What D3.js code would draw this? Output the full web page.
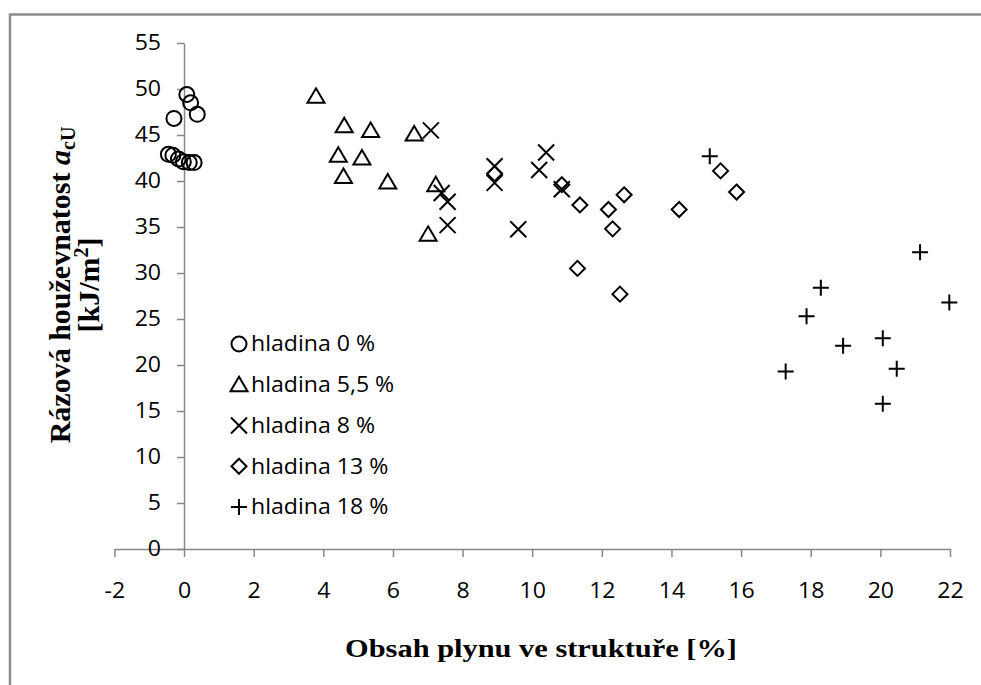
<!DOCTYPE html>
<html>
<head>
<meta charset="utf-8">
<script src="https://cdn.jsdelivr.net/npm/d3@7"></script>
<style>
  body { margin: 0; background: #fff; }
  svg { display: block; }
  .tick text { font-family: "Open Sans", sans-serif; font-size: 21px; fill: #000; }
  .legend text { font-family: "Open Sans", sans-serif; font-size: 21px; fill: #000; }
  .title { font-family: "Liberation Serif", "Times New Roman", serif; font-weight: bold; fill: #000; }
</style>
</head>
<body>
<div id="chart"></div>
<script>
var width = 981,
    height = 685;

// hladina 0 %
var x0 = [0.08, 0.19, 0.38, -0.29, -0.45, -0.32, -0.16, -0.02, 0.15, 0.29];
var y0 = [49.4, 48.5, 47.25, 46.8, 42.9, 42.8, 42.4, 42.1, 42.0, 42.0];
// hladina 5,5 %
var x55 = [3.79, 4.6, 5.36, 6.61, 4.43, 5.11, 4.58, 5.85, 7.23, 7.01];
var y55 = [49.2, 46.0, 45.5, 45.1, 42.8, 42.5, 40.5, 39.9, 39.6, 34.2];
// hladina 8 %
var x8 = [7.09, 10.4, 8.92, 10.2, 8.92, 7.4, 7.57, 10.85, 7.57, 9.6];
var y8 = [45.5, 43.1, 41.6, 41.2, 39.8, 38.7, 37.75, 39.1, 35.2, 34.75];
// hladina 13 %
var x13 = [8.92, 10.85, 11.37, 12.19, 12.64, 12.31, 11.3, 12.52, 15.41, 15.87, 14.22];
var y13 = [40.8, 39.6, 37.4, 36.9, 38.5, 34.8, 30.5, 27.7, 41.1, 38.8, 36.9];
// hladina 18 %
var x18 = [15.1, 21.14, 18.29, 21.98, 17.88, 18.93, 20.07, 17.28, 20.47, 20.07];
var y18 = [42.7, 32.25, 28.4, 26.8, 25.3, 22.1, 22.9, 19.3, 19.6, 15.8];

var seriesNames = ["hladina 0 %", "hladina 5,5 %", "hladina 8 %", "hladina 13 %", "hladina 18 %"];
var xTicks = [-2, 0, 2, 4, 6, 8, 10, 12, 14, 16, 18, 20, 22];
var yTicks = [0, 5, 10, 15, 20, 25, 30, 35, 40, 45, 50, 55];

var series = [
  { name: seriesNames[0], shape: "circle", xs: x0, ys: y0 },
  { name: seriesNames[1], shape: "triangle", xs: x55, ys: y55 },
  { name: seriesNames[2], shape: "x", xs: x8, ys: y8 },
  { name: seriesNames[3], shape: "diamond", xs: x13, ys: y13 },
  { name: seriesNames[4], shape: "plus", xs: x18, ys: y18 }
];

var stretch = 1.1; // text in the picture is a bit wider than tall

var svg = d3.select("#chart").append("svg")
  .attr("width", width)
  .attr("height", height);

// chart frame (only top and left edges are visible)
svg.append("path")
  .attr("d", "M10,685 V14.5 H981")
  .attr("fill", "none")
  .attr("stroke", "#8c8c8c")
  .attr("stroke-width", 2.5);

var x = d3.scaleLinear().domain([-2, 22]).range([114.4, 950]);
var y = d3.scaleLinear().domain([0, 55]).range([549, 43]);

// axes
var xAxis = svg.append("g")
  .attr("transform", "translate(0," + y(0) + ")")
  .call(d3.axisBottom(x).tickValues(xTicks).tickFormat(String)
    .tickSize(8).tickPadding(34).tickSizeOuter(0));

var yAxis = svg.append("g")
  .attr("transform", "translate(" + x(0) + ",0)")
  .call(d3.axisLeft(y).tickValues(yTicks).tickFormat(String)
    .tickSize(7).tickPadding(16).tickSizeOuter(0));

[xAxis, yAxis].forEach(function(ax) {
  ax.select(".domain").attr("stroke", "#888").attr("stroke-width", 1.5);
  ax.selectAll(".tick line").attr("stroke", "#888").attr("stroke-width", 1.5);
});

// stretch tick labels horizontally
xAxis.selectAll(".tick text").attr("transform", "scale(" + stretch + ",1)").attr("dy", "0.32em");
yAxis.selectAll(".tick text").each(function() {
  var t = d3.select(this);
  t.attr("x", +t.attr("x") / stretch).attr("transform", "scale(" + stretch + ",1)");
});

// marker symbols
function marker(sel, shape) {
  if (shape === "circle") {
    sel.append("circle").attr("r", 7.5);
  } else if (shape === "triangle") {
    sel.append("path").attr("d", "M0,-8 L8.5,6.5 L-8.5,6.5 Z");
  } else if (shape === "diamond") {
    sel.append("path").attr("d", "M0,-7.5 L7.5,0 L0,7.5 L-7.5,0 Z");
  } else if (shape === "x") {
    sel.append("path").attr("d", "M-8,-8 L8,8 M-8,8 L8,-8");
  } else if (shape === "plus") {
    sel.append("path").attr("d", "M-8,0 H8 M0,-8 V8");
  }
  sel.selectAll("circle, path")
    .attr("fill", "none")
    .attr("stroke", "#000")
    .attr("stroke-width", 2);
}

var plot = svg.append("g");
series.forEach(function(s) {
  var pts = s.xs.map(function(v, i) { return [v, s.ys[i]]; });
  plot.selectAll(null)
    .data(pts)
    .enter()
    .append("g")
    .attr("transform", function(d) { return "translate(" + x(d[0]) + "," + y(d[1]) + ")"; })
    .each(function() { marker(d3.select(this), s.shape); });
});

// legend
var legend = svg.append("g").attr("class", "legend");
var legendY = d3.scalePoint().domain(seriesNames).range([344, 507]);
series.forEach(function(s) {
  var g = legend.append("g").attr("transform", "translate(239," + legendY(s.name) + ")");
  marker(g, s.shape);
  g.append("text")
    .attr("x", 12 / stretch)
    .attr("dy", "0.35em")
    .attr("transform", "scale(" + stretch + ",1)")
    .text(s.name);
});

// x title
svg.append("text")
  .attr("class", "title")
  .attr("text-anchor", "middle")
  .attr("transform", "translate(541,657) scale(1.17,1)")
  .style("font-size", "26px")
  .text("Obsah plynu ve struktuře [%]");

// y title
var yt = svg.append("text")
  .attr("class", "title")
  .attr("text-anchor", "middle")
  .attr("transform", "translate(0,285) rotate(-90)")
  .style("font-size", "30px");
var l1 = yt.append("tspan").attr("x", 0).attr("y", 70);
l1.append("tspan").text("Rázová houževnatost ");
l1.append("tspan").style("font-style", "italic").text("a");
l1.append("tspan").attr("dy", 5).style("font-size", "20px").text("cU");
var l2 = yt.append("tspan").attr("x", 0).attr("y", 99);
l2.append("tspan").text("[kJ/m");
l2.append("tspan").attr("dy", -11).style("font-size", "20px").text("2");
l2.append("tspan").attr("dy", 11).text("]");
</script>
</body>
</html>
